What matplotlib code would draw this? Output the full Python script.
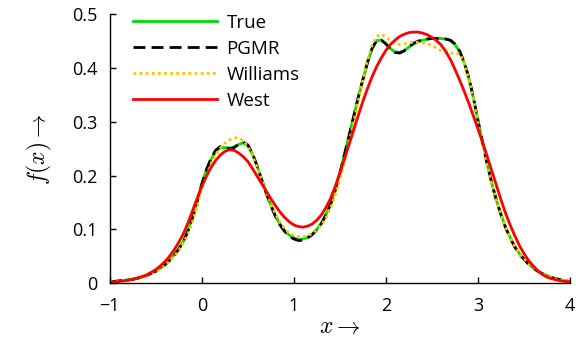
import matplotlib
matplotlib.use('Agg')
import matplotlib.pyplot as plt
import numpy as np

# x grid used when reading the curves off the picture (step 0.05)
x_vals = np.round(np.linspace(-1.0, 4.0, 101), 2)

true_vals = [
    0.002, 0.003, 0.004, 0.005, 0.006, 0.007, 0.009, 0.011, 0.014, 0.018,
    0.022, 0.028, 0.035, 0.043, 0.053, 0.064, 0.078, 0.098, 0.123, 0.153,
    0.185, 0.210, 0.230, 0.245, 0.252, 0.252, 0.251, 0.253, 0.258, 0.261,
    0.256, 0.240, 0.218, 0.193, 0.168, 0.145, 0.125, 0.109, 0.097, 0.089,
    0.084, 0.081, 0.082, 0.085, 0.091, 0.100, 0.112, 0.128, 0.148, 0.174,
    0.205, 0.240, 0.275, 0.310, 0.345, 0.378, 0.410, 0.436, 0.451, 0.452,
    0.445, 0.436, 0.430, 0.429, 0.433, 0.439, 0.445, 0.449, 0.452, 0.454,
    0.455, 0.455, 0.455, 0.454, 0.451, 0.444, 0.431, 0.410, 0.382, 0.345,
    0.302, 0.262, 0.222, 0.186, 0.155, 0.128, 0.104, 0.085, 0.068, 0.055,
    0.045, 0.036, 0.028, 0.022, 0.018, 0.014, 0.010, 0.008, 0.006, 0.004,
    0.003,
]
pgmr_vals = [
    0.002, 0.003, 0.004, 0.005, 0.006, 0.007, 0.009, 0.011, 0.014, 0.018,
    0.022, 0.028, 0.034, 0.042, 0.052, 0.063, 0.077, 0.097, 0.122, 0.152,
    0.184, 0.211, 0.232, 0.247, 0.254, 0.253, 0.250, 0.252, 0.258, 0.262,
    0.257, 0.241, 0.218, 0.192, 0.167, 0.144, 0.124, 0.108, 0.096, 0.087,
    0.082, 0.079, 0.080, 0.084, 0.090, 0.099, 0.111, 0.127, 0.147, 0.173,
    0.204, 0.239, 0.274, 0.310, 0.346, 0.379, 0.411, 0.437, 0.452, 0.452,
    0.445, 0.436, 0.429, 0.428, 0.432, 0.439, 0.446, 0.450, 0.453, 0.454,
    0.455, 0.455, 0.455, 0.454, 0.452, 0.445, 0.432, 0.411, 0.383, 0.345,
    0.303, 0.262, 0.222, 0.186, 0.154, 0.127, 0.103, 0.084, 0.067, 0.054,
    0.044, 0.035, 0.028, 0.022, 0.017, 0.013, 0.010, 0.008, 0.006, 0.004,
    0.003,
]
williams_vals = [
    0.002, 0.003, 0.004, 0.005, 0.006, 0.007, 0.009, 0.011, 0.014, 0.017,
    0.021, 0.027, 0.033, 0.041, 0.050, 0.061, 0.074, 0.092, 0.115, 0.144,
    0.175, 0.200, 0.222, 0.239, 0.251, 0.260, 0.266, 0.270, 0.270, 0.265,
    0.254, 0.237, 0.216, 0.192, 0.169, 0.147, 0.128, 0.113, 0.101, 0.093,
    0.088, 0.086, 0.086, 0.088, 0.092, 0.099, 0.108, 0.122, 0.140, 0.164,
    0.192, 0.226, 0.262, 0.300, 0.340, 0.378, 0.415, 0.443, 0.459, 0.463,
    0.458, 0.451, 0.446, 0.444, 0.445, 0.447, 0.448, 0.448, 0.447, 0.445,
    0.442, 0.437, 0.432, 0.429, 0.428, 0.428, 0.427, 0.410, 0.380, 0.343,
    0.300, 0.260, 0.220, 0.185, 0.154, 0.128, 0.104, 0.085, 0.068, 0.055,
    0.045, 0.036, 0.029, 0.023, 0.018, 0.014, 0.010, 0.008, 0.006, 0.004,
    0.003,
]
west_vals = [
    0.001, 0.002, 0.003, 0.004, 0.005, 0.007, 0.009, 0.012, 0.015, 0.020,
    0.025, 0.032, 0.040, 0.050, 0.062, 0.076, 0.092, 0.112, 0.135, 0.158,
    0.180, 0.199, 0.215, 0.228, 0.238, 0.245, 0.248, 0.247, 0.242, 0.235,
    0.226, 0.213, 0.199, 0.185, 0.171, 0.157, 0.144, 0.132, 0.122, 0.114,
    0.108, 0.105, 0.104, 0.106, 0.110, 0.117, 0.127, 0.141, 0.158, 0.180,
    0.205, 0.231, 0.258, 0.285, 0.312, 0.338, 0.362, 0.384, 0.403, 0.419,
    0.433, 0.444, 0.452, 0.459, 0.463, 0.466, 0.467, 0.467, 0.465, 0.462,
    0.457, 0.451, 0.443, 0.431, 0.416, 0.398, 0.378, 0.357, 0.335, 0.311,
    0.287, 0.262, 0.236, 0.209, 0.182, 0.155, 0.130, 0.108, 0.088, 0.070,
    0.055, 0.042, 0.032, 0.023, 0.016, 0.011, 0.008, 0.006, 0.004, 0.003,
    0.002,
]

x_ticks = [-1, 0, 1, 2, 3, 4]
x_tick_labels = ['\u22121', '0', '1', '2', '3', '4']
y_ticks = [0, 0.1, 0.2, 0.3, 0.4, 0.5]
y_tick_labels = ['0', '0.1', '0.2', '0.3', '0.4', '0.5']

plt.rcParams['font.family'] = ['Open Sans', 'DejaVu Sans']
plt.rcParams['mathtext.fontset'] = 'cm'

fig = plt.figure(figsize=(5.84, 3.41), dpi=100)
ax = fig.add_axes([0.188, 0.170, 0.788, 0.788])

ax.plot(x_vals, true_vals, color='#00dd00', lw=2.0, label='True')
ax.plot(x_vals, pgmr_vals, color='black', lw=2.0, ls=(0, (4.3, 2.2)), label='PGMR')
ax.plot(x_vals, williams_vals, color='#ffc000', lw=2.0, ls=(0, (1.0, 1.2)), label='Williams')
ax.plot(x_vals, west_vals, color='#ff0000', lw=2.0, label='West')

ax.set_xlim(-1, 4)
ax.set_ylim(0, 0.5)
ax.set_xticks(x_ticks)
ax.set_xticklabels(x_tick_labels)
ax.set_yticks(y_ticks)
ax.set_yticklabels(y_tick_labels)
ax.tick_params(direction='in', length=4, width=1, labelsize=13)
ax.tick_params(axis='x', pad=10)
ax.tick_params(axis='y', pad=9)

for side in ['top', 'right']:
    ax.spines[side].set_visible(False)
for side in ['left', 'bottom']:
    ax.spines[side].set_linewidth(1)

ax.set_xlabel(r'$x \rightarrow$', fontsize=17, labelpad=0)
ax.set_ylabel(r'$f(x) \rightarrow$', fontsize=17, labelpad=13)

ax.legend(loc='upper left', bbox_to_anchor=(0.014, 1.064), frameon=False,
          fontsize=13.5, handlelength=4.5, handletextpad=0.48, labelspacing=0.42)

fig.savefig('out.png', dpi=100)
